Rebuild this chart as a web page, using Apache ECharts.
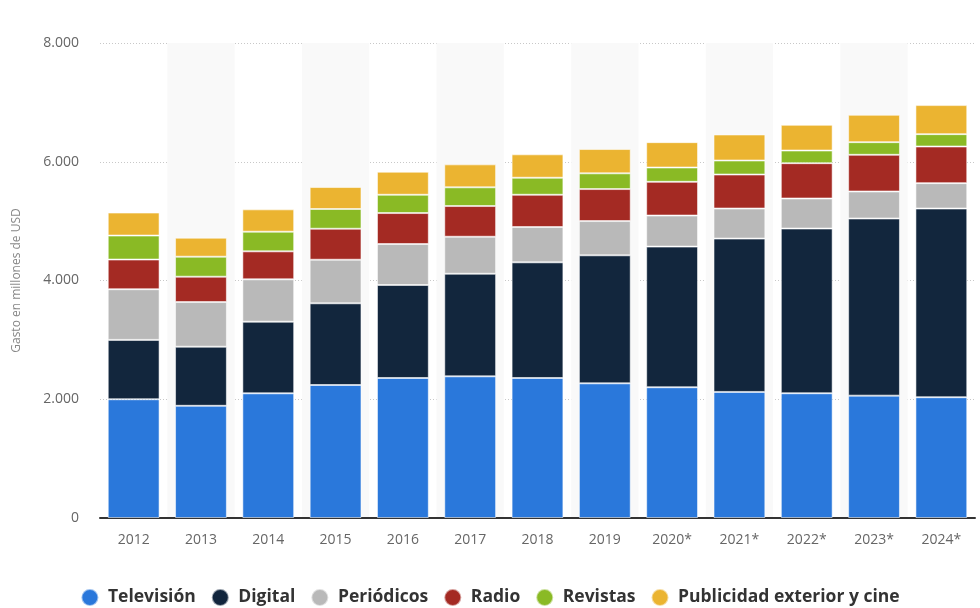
<!DOCTYPE html>
<html>
<head>
<meta charset="utf-8">
<script src="https://cdn.jsdelivr.net/npm/echarts@6/dist/echarts.min.js"></script>
<style>html,body{margin:0;padding:0;background:#fff}#c{width:980px;height:608px}</style>
</head>
<body>
<div id="c"></div>
<script>
const years = ['2012','2013','2014','2015','2016','2017','2018','2019','2020*','2021*','2022*','2023*','2024*'];
const television = [2000, 1890, 2100, 2240, 2358, 2386, 2358, 2268, 2202, 2123, 2101, 2061, 2034];
const digital    = [1000, 995, 1206, 1376, 1566, 1728, 1948, 2156, 2369, 2583, 2774, 2983, 3178];
const periodicos = [853, 752, 714, 734, 690, 623, 594, 577, 523, 506, 506, 455, 428];
const radio      = [500, 427, 471, 522, 522, 517, 544, 539, 568, 573, 595, 618, 617];
const revistas   = [404, 337, 331, 332, 308, 315, 287, 265, 241, 236, 213, 213, 208];
const publicidad = [387, 320, 376, 370, 388, 387, 394, 409, 427, 438, 433, 461, 489];
const yTicks = [0, 2000, 4000, 6000, 8000];

const seriesDefs = [
  ['Televisión', television, '#2a78db'],
  ['Digital', digital, '#12263d'],
  ['Periódicos', periodicos, '#b9b9b9'],
  ['Radio', radio, '#a42a23'],
  ['Revistas', revistas, '#8aba25'],
  ['Publicidad exterior y cine', publicidad, '#ebb431']
];

const chart = echarts.init(document.getElementById('c'));
chart.setOption({
  animation: false,
  textStyle: { fontFamily: 'Open Sans' },
  grid: { left: 100, right: 5, top: 43, bottom: 90 },
  legend: {
    top: 583,
    left: 'center',
    icon: 'circle',
    itemWidth: 17,
    itemHeight: 17,
    itemGap: 15,
    formatter: n => ' ' + n,
    textStyle: { fontFamily: 'Open Sans', fontSize: 17.5, fontWeight: 'bold', color: '#333' }
  },
  xAxis: {
    type: 'category',
    data: years,
    axisLine: { lineStyle: { color: '#333', width: 2 } },
    axisTick: { show: false },
    axisLabel: { color: '#666', fontSize: 14, margin: 15 },
    splitArea: { show: true, areaStyle: { color: ['rgba(255,255,255,0)', '#f9f9f9'] } }
  },
  yAxis: {
    type: 'value',
    min: yTicks[0],
    max: yTicks[yTicks.length - 1],
    interval: 2000,
    name: 'Gasto en millones de USD',
    nameLocation: 'middle',
    nameGap: 77,
    nameTextStyle: { color: '#888', fontSize: 12 },
    axisLine: { show: false },
    axisTick: { show: false },
    axisLabel: {
      color: '#666', fontSize: 14, margin: 21,
      formatter: v => v === 0 ? '0' : String(v).replace(/\B(?=(\d{3})+(?!\d))/g, '.')
    },
    splitLine: { lineStyle: { color: '#c8c8c8', type: [1, 2], width: 1 } }
  },
  series: seriesDefs.map(([name, data, color]) => ({
    name, type: 'bar', stack: 'total', data,
    barWidth: '77%',
    itemStyle: { color, borderColor: 'rgba(255,255,255,0.55)', borderWidth: 1 }
  }))
});
</script>
</body>
</html>
